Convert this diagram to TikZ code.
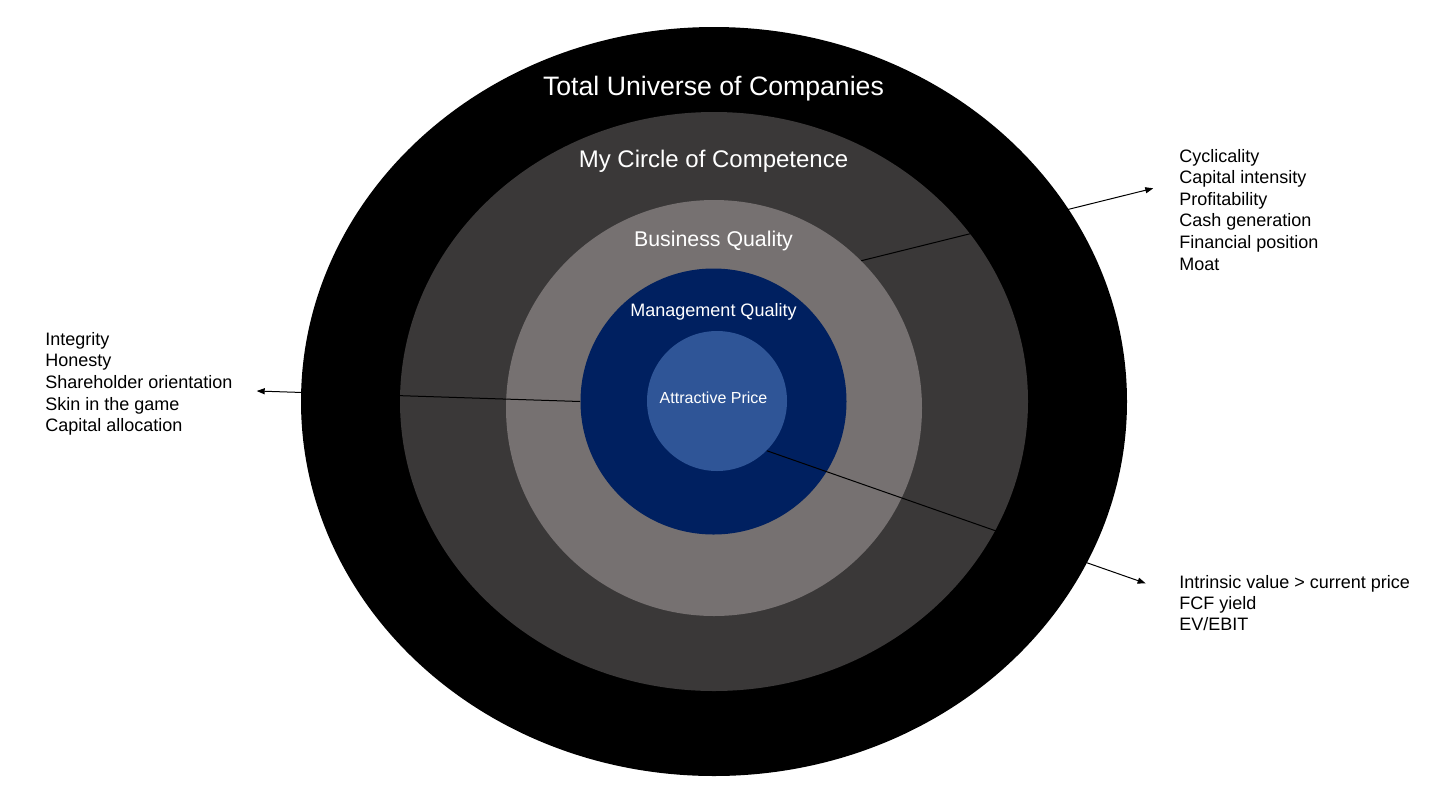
\documentclass[tikz,border=0pt]{standalone}
\usepackage{fontspec}
\setmainfont{Liberation Sans}
\usetikzlibrary{arrows.meta,shapes.geometric}
\definecolor{ringblack}{HTML}{000000}
\definecolor{ringdark}{HTML}{3A3838}
\definecolor{ringlight}{HTML}{767171}
\definecolor{ringnavy}{HTML}{002060}
\definecolor{ringblue}{HTML}{2F5597}
\begin{document}
\begin{tikzpicture}[x=0.75pt,y=-0.75pt,
  ring/.style={ellipse, inner sep=0pt, draw=none},
  title/.style={text=white, anchor=base, inner sep=0pt},
  item/.style={anchor=base west, inner sep=0pt, font=\fontsize{13.5}{16}\selectfont},
  pointer/.style={draw=black, line width=0.75pt, -{Triangle[length=6pt,width=4.5pt]}}]
\useasboundingbox (0,0) rectangle (1436,808);
% rings
\node[ring, fill=ringblack, minimum width=619.5pt, minimum height=561.75pt] (tu) at (714,401.5) {};
\node[ring, fill=ringdark, minimum width=471pt, minimum height=434.25pt] (cc) at (714,401.5) {};
\node[circle, inner sep=0pt, fill=ringlight, minimum size=312pt] (bq) at (714,408) {};
\node[circle, inner sep=0pt, fill=ringnavy, minimum size=199.5pt] (mq) at (713.5,401.5) {};
\node[circle, inner sep=0pt, fill=ringblue, minimum size=105pt] (ap) at (717,401) {};
% titles
\node[title, font=\fontsize{20}{24}\selectfont] (tut) at (713.5,95) {Total Universe of Companies};
\node[title, font=\fontsize{18}{22}\selectfont] (cct) at (713.5,167) {My Circle of Competence};
\node[title, font=\fontsize{16}{19}\selectfont] (bqt) at (713.5,246) {Business Quality};
\node[title, font=\fontsize{13.5}{16}\selectfont] (mqt) at (713.5,316) {Management Quality};
\node[title, font=\fontsize{12}{14}\selectfont] (apt) at (713.5,403) {Attractive Price};
% lists
\foreach \t [count=\i] in {Integrity, Honesty, Shareholder orientation, Skin in the game, Capital allocation}
  \node[item] (left\i) at (45,{345+21.7*(\i-1)}) {\t};
\foreach \t [count=\i] in {Cyclicality, Capital intensity, Profitability, Cash generation, Financial position, Moat}
  \node[item] (top\i) at (1179,{162.3+21.55*(\i-1)}) {\t};
\foreach \t [count=\i] in {Intrinsic value > current price, FCF yield, EV/EBIT}
  \node[item] (bot\i) at (1179,{588.3+21.2*(\i-1)}) {\t};
% connectors
\coordinate (lp) at (256.7,391);
\coordinate (tp) at (1153.3,188.3);
\coordinate (bp) at (1145.6,583.3);
\draw[pointer] (mq.west) -- (lp);
\draw[pointer] (bq.45) -- (tp);
\draw[pointer] (ap.-45) -- (bp);
\end{tikzpicture}
\end{document}
